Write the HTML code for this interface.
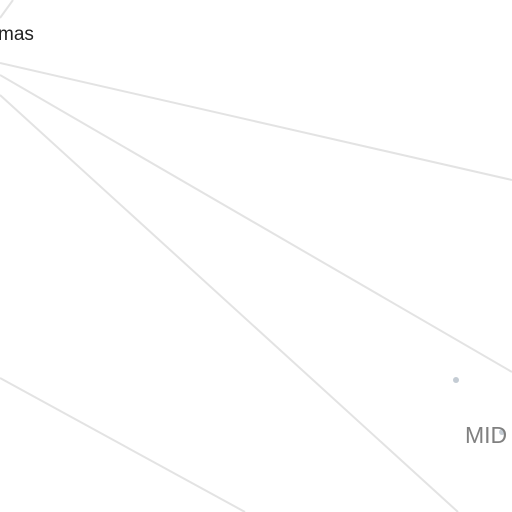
<!DOCTYPE html>
<html><head><meta charset="utf-8"><style>
html,body{margin:0;padding:0;background:#fff;width:512px;height:512px;overflow:hidden}
svg{display:block}
</style></head><body>
<svg id="chart" width="512" height="512" viewBox="0 0 512 512" xmlns="http://www.w3.org/2000/svg">
<g id="spokes"></g>
<g id="points"></g>
<text x="-2" y="40" font-family="Liberation Sans, sans-serif" font-size="19" fill="#222">mas</text>
<text x="465" y="443" font-family="Liberation Sans, sans-serif" font-size="23" fill="#808080">MID</text>
</svg>
<script>
const spokeStarts = [[0,18],[0,63],[0,75],[0,95],[0,378]];
const spokeEnds = [[13,0],[512,180],[512,372],[458,512],[245,512]];
const pointXs = [456,502];
const pointYs = [380,432];
const ns = 'http://www.w3.org/2000/svg';
const sg = document.getElementById('spokes');
spokeStarts.forEach((s,i)=>{
  const l = document.createElementNS(ns,'line');
  l.setAttribute('x1',s[0]);l.setAttribute('y1',s[1]);
  l.setAttribute('x2',spokeEnds[i][0]);l.setAttribute('y2',spokeEnds[i][1]);
  l.setAttribute('stroke','#e3e3e3');l.setAttribute('stroke-width','2');
  
  
  sg.appendChild(l);
});
const pg = document.getElementById('points');
pointXs.forEach((x,i)=>{
  const c = document.createElementNS(ns,'circle');
  c.setAttribute('cx',x);c.setAttribute('cy',pointYs[i]);c.setAttribute('r','3');
  c.setAttribute('fill','#c4ccd4');
  
  
  pg.appendChild(c);
});
</script>
</body></html>
